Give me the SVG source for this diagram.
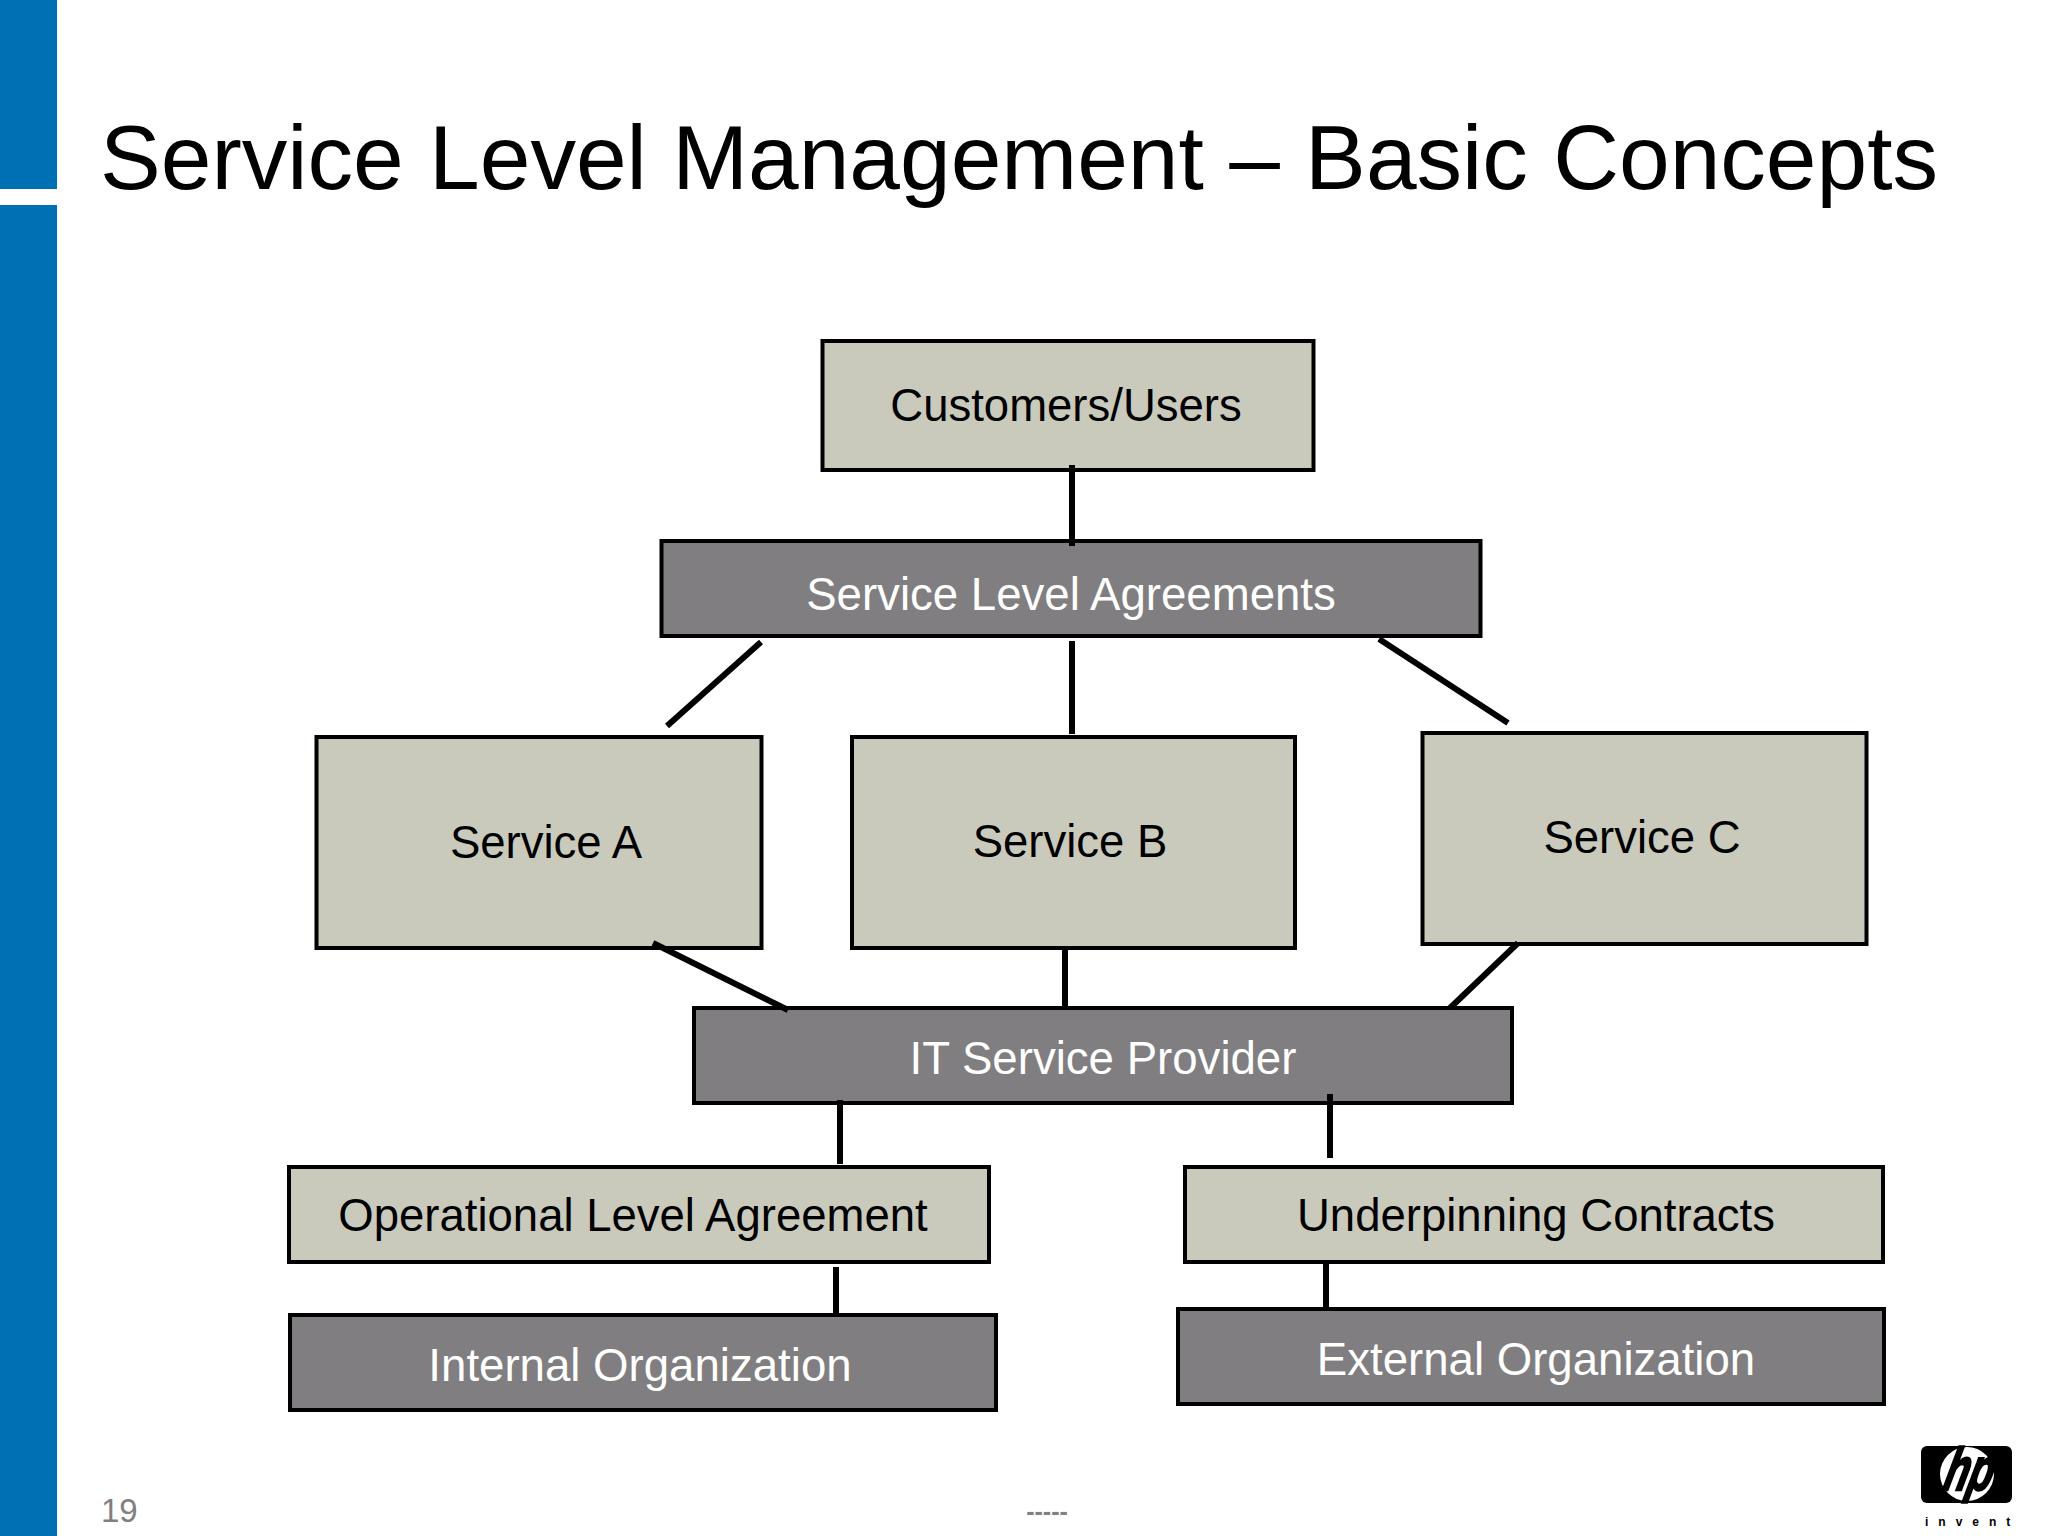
<svg xmlns="http://www.w3.org/2000/svg" width="2048" height="1536" viewBox="0 0 2048 1536">
<style>
text{font-family:"Liberation Sans",Arial,sans-serif}
.l{fill:#c9c9bc;stroke:#000;stroke-width:4}
.d{fill:#807e80;stroke:#000;stroke-width:4}
.lt{font-size:45.5px;fill:#000;text-anchor:middle}
.dt{font-size:45.6px;fill:#fff;text-anchor:middle}
#connectors line{stroke:#000;stroke-width:6}
</style>
<rect width="2048" height="1536" fill="#fff"/>
<g id="sidebar" fill="#0070b5"><rect x="0" y="0" width="57" height="189"/><rect x="0" y="205" width="57" height="1331"/></g>
<text id="title" x="100" y="189" font-size="91.1" fill="#000">Service Level Management – Basic Concepts</text>
<g id="customers"><rect class="l" x="822.5" y="341" width="491" height="129"/><text class="lt" x="1066" y="421">Customers/Users</text></g>
<g id="sla"><rect class="d" x="661.5" y="541" width="819" height="95"/><text class="dt" x="1071" y="610">Service Level Agreements</text></g>
<g id="service-a"><rect class="l" x="316.5" y="737" width="445" height="211"/><text class="lt" x="546" y="858">Service A</text></g>
<g id="service-b"><rect class="l" x="852" y="737" width="443" height="211"/><text class="lt" x="1070" y="857">Service B</text></g>
<g id="service-c"><rect class="l" x="1422.5" y="733" width="444" height="211"/><text class="lt" x="1642" y="853">Service C</text></g>
<g id="provider"><rect class="d" x="694" y="1008" width="818" height="95"/><text class="dt" x="1103" y="1074">IT Service Provider</text></g>
<g id="ola"><rect class="l" x="289" y="1167" width="700" height="95"/><text class="lt" x="633" y="1231">Operational Level Agreement</text></g>
<g id="uc"><rect class="l" x="1185" y="1167" width="698" height="95"/><text class="lt" x="1536" y="1231">Underpinning Contracts</text></g>
<g id="internal"><rect class="d" x="290" y="1315" width="706" height="95"/><text class="dt" x="640" y="1381">Internal Organization</text></g>
<g id="external"><rect class="d" x="1178" y="1309" width="706" height="95"/><text class="dt" x="1536" y="1375">External Organization</text></g>
<g id="connectors">
<line x1="1072" y1="465" x2="1072" y2="546"/>
<line x1="761" y1="642" x2="667" y2="726"/>
<line x1="1072" y1="641" x2="1072" y2="734"/>
<line x1="1379" y1="639" x2="1508" y2="723"/>
<line x1="653" y1="943" x2="788" y2="1010"/>
<line x1="1065" y1="948" x2="1065" y2="1008"/>
<line x1="1518" y1="943" x2="1450" y2="1008"/>
<line x1="840" y1="1100" x2="840" y2="1164"/>
<line x1="1330" y1="1094" x2="1330" y2="1158"/>
<line x1="836" y1="1267" x2="836" y2="1315"/>
<line x1="1326" y1="1262" x2="1326" y2="1311"/>
</g>
<text id="page" x="101" y="1522" font-size="33" fill="#808080">19</text>
<text id="dashes" x="1047" y="1520" font-size="25" font-weight="bold" fill="#808080" text-anchor="middle">-----</text>
<g id="logo">
<rect x="1921" y="1446" width="91" height="57" rx="6" fill="#000"/>
<circle cx="1967" cy="1474" r="27" fill="#fff"/>
<text transform="translate(1966 1490) skewX(-14) scale(0.66 1)" font-size="60" font-weight="bold" font-style="italic" text-anchor="middle" fill="#000" stroke="#000" stroke-width="2.5">hp</text>
<text x="1925" y="1526" font-size="12" font-weight="bold" letter-spacing="10" fill="#000">invent</text>
</g>
</svg>
